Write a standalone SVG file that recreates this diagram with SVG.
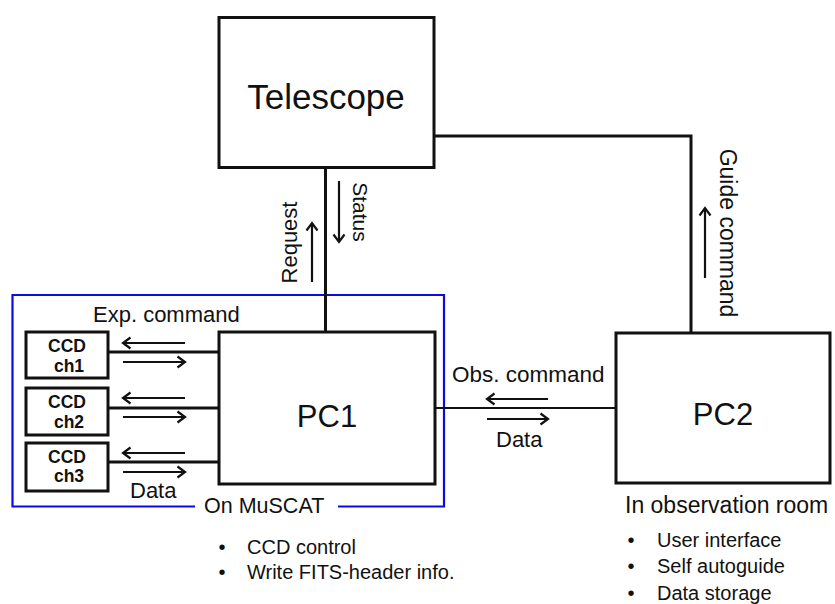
<svg xmlns="http://www.w3.org/2000/svg" width="835" height="604" viewBox="0 0 835 604">
  <defs>
    <style>
      text { font-family: "Liberation Sans", Arial, sans-serif; fill: #111; }
      .box { fill: #fff; stroke: #111; stroke-width: 3; }
      .link { fill: none; stroke: #111; stroke-width: 3; }
      .thin { fill: none; stroke: #111; stroke-width: 2.2; }
      .flow { fill: none; stroke: #111; stroke-width: 2.2; marker-end: url(#head); }
      .frame { fill: none; stroke: #0a0ae6; stroke-width: 2.2; }
      .lbl { font-size: 22px; }
      .big { font-size: 35px; }
      .pc { font-size: 31px; }
      .ccd { font-size: 17.5px; font-weight: bold; text-anchor: middle; }
      .note { font-size: 20px; }
    </style>
    <marker id="head" markerUnits="userSpaceOnUse" markerWidth="16" markerHeight="16" viewBox="-9 -8 11 16" refX="0" refY="0" orient="auto">
      <path d="M-7.5,-5.5 L0,0 L-7.5,5.5" fill="none" stroke="#111" stroke-width="2.2"/>
    </marker>
  </defs>

  <!-- MuSCAT enclosure with a gap for its caption -->
  <g id="muscat-frame">
    <path class="frame" d="M195,506.5 H12.5 V295 H444 V506.5 H338"/>
    <text class="lbl" x="204" y="513" style="font-size:21.5px">On MuSCAT</text>
  </g>

  <!-- connectors -->
  <g id="connectors">
    <path class="link" d="M325.5,168 V332"/>
    <path class="link" d="M434,136 H691 V333"/>
    <path class="thin" d="M435,408 H616"/>
    <path class="link" d="M108,352 H219"/>
    <path class="link" d="M108,408 H219"/>
    <path class="link" d="M108,462 H219"/>

    <!-- direction arrows -->
    <line class="flow" x1="312" y1="282" x2="312" y2="223"/>
    <line class="flow" x1="339" y1="181" x2="339" y2="242"/>
    <line class="flow" x1="705" y1="278" x2="705" y2="208"/>

    <line class="flow" x1="185" y1="343" x2="123" y2="343"/>
    <line class="flow" x1="123" y1="362" x2="185" y2="362"/>
    <line class="flow" x1="185" y1="398" x2="123" y2="398"/>
    <line class="flow" x1="123" y1="417" x2="185" y2="417"/>
    <line class="flow" x1="185" y1="453" x2="123" y2="453"/>
    <line class="flow" x1="123" y1="472" x2="185" y2="472"/>

    <line class="flow" x1="548" y1="399" x2="487" y2="399"/>
    <line class="flow" x1="487" y1="419" x2="548" y2="419"/>

    <!-- connector labels -->
    <text class="lbl" transform="translate(297,242.5) rotate(-90)" text-anchor="middle">Request</text>
    <text class="lbl" transform="translate(353,212) rotate(90)" text-anchor="middle" style="font-size:21px">Status</text>
    <text class="lbl" transform="translate(720,233) rotate(90)" text-anchor="middle" style="font-size:23px">Guide command</text>
    <text class="lbl" x="93" y="322">Exp. command</text>
    <text class="lbl" x="130" y="498">Data</text>
    <text class="lbl" x="452" y="382" style="font-size:22.5px">Obs. command</text>
    <text class="lbl" x="496" y="447">Data</text>
  </g>

  <g id="telescope">
    <rect class="box" x="219" y="17.5" width="215" height="150"/>
    <text class="big" x="326" y="109" text-anchor="middle">Telescope</text>
  </g>

  <g id="pc1">
    <rect class="box" x="219" y="332" width="216" height="152"/>
    <text class="pc" x="327" y="427" text-anchor="middle">PC1</text>
    <text class="note" x="222" y="554" text-anchor="middle">•</text>
    <text class="note" x="247" y="554">CCD control</text>
    <text class="note" x="222" y="579" text-anchor="middle">•</text>
    <text class="note" x="247" y="579">Write FITS-header info.</text>
  </g>

  <g id="pc2">
    <rect class="box" x="616" y="333" width="214" height="150"/>
    <text class="pc" x="723" y="425" text-anchor="middle">PC2</text>
    <text class="lbl" x="625" y="513" style="font-size:23px">In observation room</text>
    <text class="note" x="631" y="547" text-anchor="middle">•</text>
    <text class="note" x="657" y="547">User interface</text>
    <text class="note" x="631" y="573" text-anchor="middle">•</text>
    <text class="note" x="657" y="573">Self autoguide</text>
    <text class="note" x="631" y="600" text-anchor="middle">•</text>
    <text class="note" x="657" y="600">Data storage</text>
  </g>

  <g id="ccd-ch1">
    <rect class="box" x="26" y="332" width="82" height="46"/>
    <text class="ccd" x="67" y="352">CCD</text>
    <text class="ccd" x="69" y="372">ch1</text>
  </g>
  <g id="ccd-ch2">
    <rect class="box" x="26" y="388" width="82" height="47"/>
    <text class="ccd" x="67" y="408">CCD</text>
    <text class="ccd" x="69" y="428">ch2</text>
  </g>
  <g id="ccd-ch3">
    <rect class="box" x="26" y="443" width="82" height="48"/>
    <text class="ccd" x="67" y="463">CCD</text>
    <text class="ccd" x="69" y="482">ch3</text>
  </g>
</svg>
